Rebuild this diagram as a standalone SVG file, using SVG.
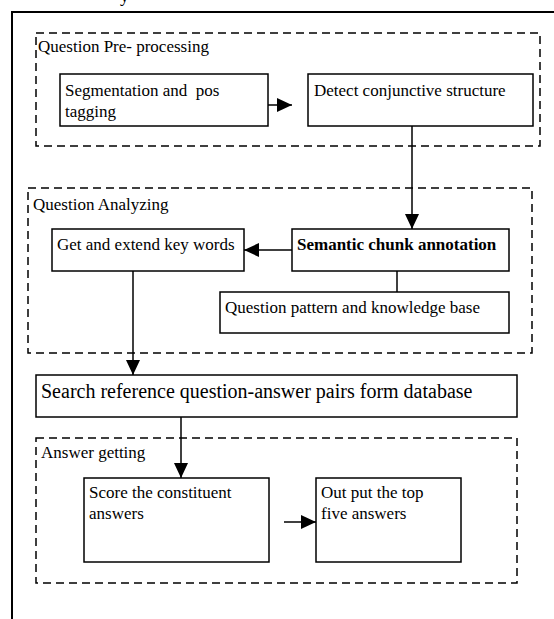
<svg xmlns="http://www.w3.org/2000/svg" width="554" height="619" viewBox="0 0 554 619">
<defs>
<marker id="ahl" viewBox="0 0 15 14" refX="15" refY="7" markerWidth="15" markerHeight="14" markerUnits="userSpaceOnUse" orient="auto">
<path d="M0,0 L15,7 L0,14 Z" fill="#000"/>
</marker>
<style>
.box{fill:#fff;stroke:#000;stroke-width:1.5}
.grp{fill:none;stroke:#000;stroke-width:1.5;stroke-dasharray:8 5}
.t{font-family:'Liberation Serif','DejaVu Serif',serif;font-size:17px;fill:#000;white-space:pre}
.b{font-weight:bold}
.big{font-size:20px}
.c{stroke:#000;stroke-width:1.5;fill:none}
</style>
</defs>
<rect width="554" height="619" fill="#fff"/>
<text class="t" x="120" y="2" style="font-size:18px">y</text>
<g id="outer"><path d="M12,619 V12 H556" class="c" style="stroke-width:2"/></g>

<g id="grp-preprocessing">
<rect class="grp" x="36" y="33" width="504" height="113"/>
<text class="t" x="38" y="52">Question Pre- processing</text>
</g>
<g id="grp-analyzing">
<rect class="grp" x="28" y="188" width="504" height="165"/>
<text class="t" x="33" y="210">Question Analyzing</text>
</g>
<g id="grp-answer">
<rect class="grp" x="36" y="438" width="481" height="145"/>
<text class="t" x="41" y="458">Answer getting</text>
</g>

<g id="n-seg">
<rect class="box" x="60" y="74" width="208" height="52"/>
<text class="t" x="65" y="96" xml:space="preserve">Segmentation and  pos</text>
<text class="t" x="65" y="117">tagging</text>
</g>
<g id="n-detect">
<rect class="box" x="308" y="74" width="225" height="52"/>
<text class="t" x="314" y="96">Detect conjunctive structure</text>
</g>
<g id="n-semantic">
<rect class="box" x="292" y="229" width="217" height="42"/>
<text class="t b" x="297" y="250">Semantic chunk annotation</text>
</g>
<g id="n-keywords">
<rect class="box" x="52" y="229" width="192" height="42"/>
<text class="t" x="57" y="250">Get and extend key words</text>
</g>
<g id="n-pattern">
<rect class="box" x="220" y="292" width="289" height="41"/>
<text class="t" x="225" y="313">Question pattern and knowledge base</text>
</g>
<g id="n-search">
<rect class="box" x="36" y="375" width="481" height="42"/>
<text class="t big" x="41" y="398">Search reference question-answer pairs form database</text>
</g>
<g id="n-score">
<rect class="box" x="84" y="478" width="185" height="84"/>
<text class="t" x="89" y="498">Score the constituent</text>
<text class="t" x="89" y="519">answers</text>
</g>
<g id="n-output">
<rect class="box" x="316" y="478" width="145" height="84"/>
<text class="t" x="321" y="498">Out put the top</text>
<text class="t" x="321" y="519">five answers</text>
</g>

<g id="connectors">
<path class="c" d="M268,105 H292" marker-end="url(#ahl)"/>
<path class="c" d="M412,126 V229" marker-end="url(#ahl)"/>
<path class="c" d="M292,250 H244" marker-end="url(#ahl)"/>
<path class="c" d="M397,271 V292"/>
<path class="c" d="M133,271 V375" marker-end="url(#ahl)"/>
<path class="c" d="M181,417 V478" marker-end="url(#ahl)"/>
<path class="c" d="M284,522 H316" marker-end="url(#ahl)"/>
</g>
</svg>
